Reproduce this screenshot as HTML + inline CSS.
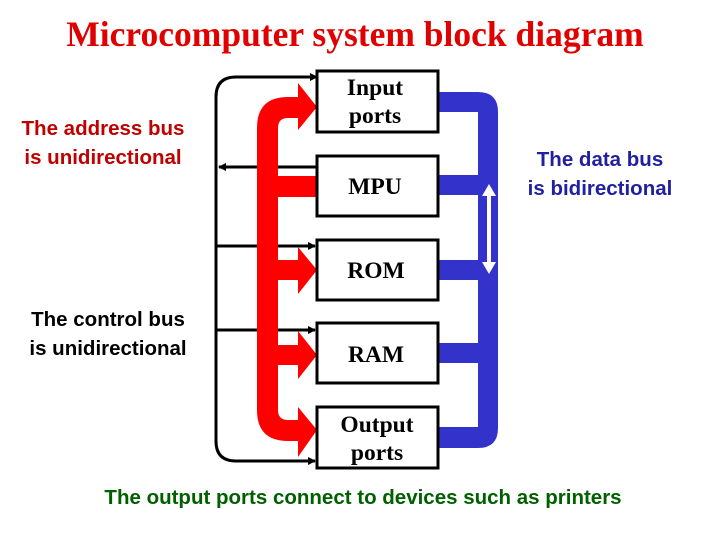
<!DOCTYPE html>
<html><head><style>
body{margin:0;background:#fff;width:720px;height:540px;overflow:hidden;position:relative}
.t{position:absolute;font-family:"Liberation Sans",sans-serif;font-weight:bold}
</style></head><body>
<svg width="720" height="540" style="position:absolute;left:0;top:0">
<defs>
<marker id="ah" markerWidth="8" markerHeight="8" refX="7" refY="4" orient="auto" markerUnits="userSpaceOnUse"><path d="M0,0 L8,4 L0,8 z" fill="#000"/></marker>
</defs>
<text x="355" y="46" text-anchor="middle" font-family="Liberation Serif,serif" font-weight="bold" font-size="35.5" fill="#e00000">Microcomputer system block diagram</text>
<path d="M315,77 L236,77 Q216,77 216,97 L216,441 Q216,461 236,461 L315,461" fill="none" stroke="#000" stroke-width="3" marker-end="url(#ah)"/>
<path d="M310,77 L317,77" stroke="#000" stroke-width="3" marker-end="url(#ah)"/>
<line x1="317" y1="167" x2="219" y2="167" stroke="#000" stroke-width="3" marker-end="url(#ah)"/>
<line x1="216" y1="246" x2="315" y2="246" stroke="#000" stroke-width="3" marker-end="url(#ah)"/>
<line x1="216" y1="330" x2="315" y2="330" stroke="#000" stroke-width="3" marker-end="url(#ah)"/>
<g fill="#3333cc">
<path d="M433,92 L478,92 Q498,92 498,112 L498,428 Q498,448 478,448 L433,448 L433,427 L478,427 L478,112 L433,112 z"/>
<rect x="433" y="175" width="50" height="20"/>
<rect x="433" y="260" width="50" height="20"/>
<rect x="433" y="343" width="50" height="20"/>
</g>
<g fill="#fff">
<rect x="487" y="193" width="4" height="72"/>
<path d="M482,196 L489,184 L496,196 z"/>
<path d="M482,262 L489,274 L496,262 z"/>
</g>
<g fill="#ff0000">
<path d="M257,128 Q257,97 288,97 L298,97 L298,83 L317,107 L298,130 L298,118 L288,118 Q278,118 278,128 L278,410 Q278,420 288,420 L298,420 L298,407 L317,430 L298,457 L298,441 L288,441 Q257,441 257,410 z"/>
<rect x="270" y="176" width="47" height="21"/>
<path d="M270,260 L298,260 L298,247 L317,270 L298,294 L298,280 L270,280 z"/>
<path d="M270,345 L298,345 L298,331 L317,355 L298,379 L298,365 L270,365 z"/>
</g>
<g fill="#fff" stroke="#000" stroke-width="3">
<rect x="317" y="71" width="121" height="61"/>
<rect x="317" y="156" width="121" height="60"/>
<rect x="317" y="240" width="121" height="60"/>
<rect x="317" y="323" width="121" height="60"/>
<rect x="317" y="407" width="121" height="61"/>
</g>
<g font-family="Liberation Serif,serif" font-weight="bold" font-size="23.5" text-anchor="middle" fill="#000">
<text x="375" y="95">Input</text><text x="375" y="123">ports</text>
<text x="375" y="194">MPU</text>
<text x="376" y="278">ROM</text>
<text x="376" y="362">RAM</text>
<text x="377" y="432">Output</text><text x="377" y="460">ports</text>
</g>
</svg>
<div class="t" style="left:0;width:206px;top:114px;text-align:center;font-size:20.5px;line-height:29px;color:#c00000">The address bus<br>is unidirectional</div>
<div class="t" style="left:0;width:216px;top:305px;text-align:center;font-size:20.5px;line-height:29px;color:#000">The control bus<br>is unidirectional</div>
<div class="t" style="left:500px;width:200px;top:145px;text-align:center;font-size:20.5px;line-height:29px;color:#2020a0">The data bus<br>is bidirectional</div>
<div class="t" style="left:0;width:726px;top:486px;text-align:center;font-size:20.5px;color:#006000">The output ports connect to devices such as printers</div>
</body></html>
